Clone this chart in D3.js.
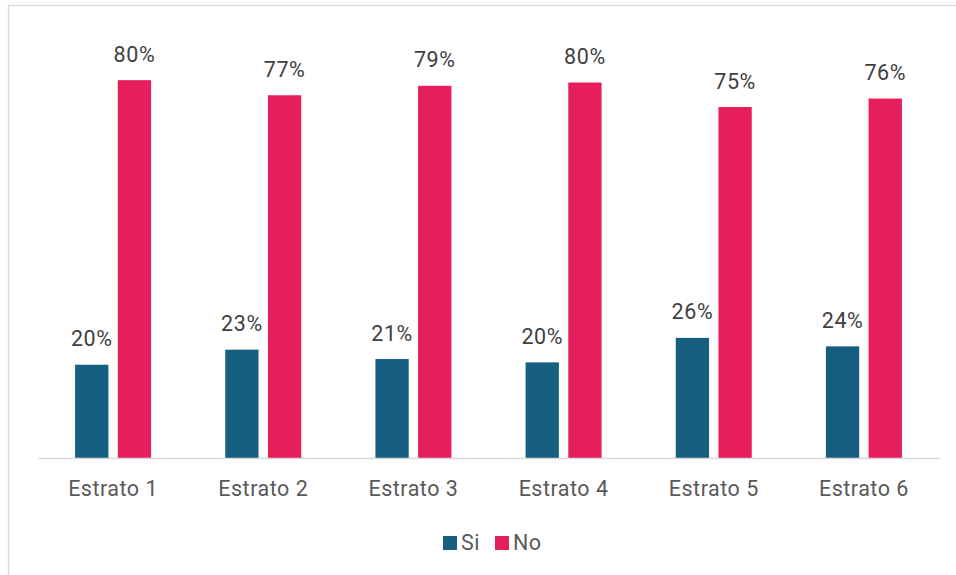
<!DOCTYPE html>
<html><head><meta charset="utf-8">
<script src="https://cdn.jsdelivr.net/npm/d3@7"></script>
<style>
html,body{margin:0;padding:0;background:#fff;}
svg{display:block;font-family:Roboto,"Noto Sans",sans-serif;}
</style></head>
<body>
<svg id="c" width="956" height="575"></svg>
<script>
const categories = ["Estrato 1","Estrato 2","Estrato 3","Estrato 4","Estrato 5","Estrato 6"];
const seriesNames = ["Si","No"];
const siValues = [0.198, 0.230, 0.210, 0.203, 0.255, 0.237];
const noValues = [0.802, 0.770, 0.790, 0.797, 0.745, 0.763];
const colors = ["#175F80","#E61E5C"];

const svg = d3.select("#c");
// chart frame
svg.append("rect").attr("x",8.5).attr("y",5.5).attr("width",1000).attr("height",1000)
  .attr("fill","none").attr("stroke","#d9d9d9").attr("stroke-width",1.3);

const x0 = d3.scaleBand().domain(categories).range([38,939]).paddingInner(0).paddingOuter(0);
const x1 = d3.scaleBand().domain(seriesNames).range([x0.bandwidth()/2-38, x0.bandwidth()/2+38]).paddingInner(0.22).paddingOuter(0);
const y = d3.scaleLinear().domain([0,0.9]).range([458,34]);

const data = categories.map((c,i)=>({cat:c, vals:[siValues[i], noValues[i]]}));
const fmt = d3.format(".0%");

const g = svg.append("g");
const grp = g.selectAll("g.cat").data(data).join("g").attr("class","cat")
  .attr("transform",d=>`translate(${x0(d.cat)},0)`);
grp.selectAll("rect").data(d=>d.vals.map((v,k)=>({k,v}))).join("rect")
  .attr("x",d=>x1(seriesNames[d.k])).attr("width",x1.bandwidth())
  .attr("y",d=>y(d.v)).attr("height",d=>y(0)-y(d.v))
  .attr("fill",d=>colors[d.k]);
grp.selectAll("text.val").data(d=>d.vals.map((v,k)=>({k,v}))).join("text").attr("class","val")
  .attr("x",d=>x1(seriesNames[d.k])+x1.bandwidth()/2)
  .attr("y",d=>y(d.v)-18.5)
  .attr("text-anchor","middle").attr("font-size",21.5).attr("letter-spacing",0.6).attr("fill","#404040")
  .text(d=>fmt(Math.round(d.v*100)/100));

// x axis
const ax = svg.append("g").attr("transform","translate(0,458)")
  .call(d3.axisBottom(x0).tickSize(0).tickPadding(0));
ax.select(".domain").attr("stroke","#d9d9d9").attr("stroke-width",1.5);
ax.selectAll("text").attr("font-size",21.5).attr("letter-spacing",0.5).attr("fill","#595959").attr("font-family","Roboto,'Noto Sans',sans-serif")
  .attr("dy",null).attr("y",38);

// legend
const leg = svg.append("g");
const legX = [443, 495];
seriesNames.forEach((s,i)=>{
  leg.append("rect").attr("x",legX[i]).attr("y",536).attr("width",14).attr("height",14).attr("fill",colors[i]);
  leg.append("text").attr("x",legX[i]+18).attr("y",550).attr("font-size",21.5).attr("letter-spacing",0.5).attr("fill","#595959").text(s);
});
</script>
</body></html>
